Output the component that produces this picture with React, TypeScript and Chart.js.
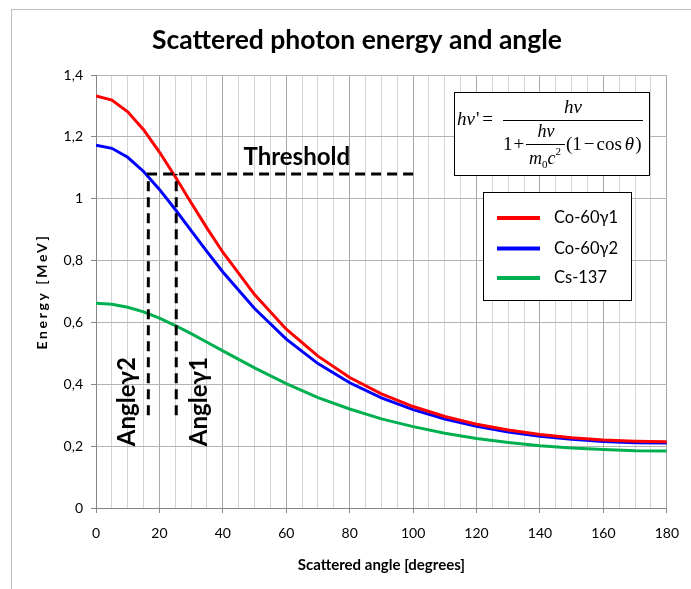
import React, { useEffect, useRef } from "react";
import { Chart, registerables } from "chart.js";

Chart.register(...registerables);

// Scattering angle in degrees
const angles = [0, 5, 10, 15, 20, 25, 30, 35, 40, 50, 60, 70, 80, 90, 100, 110, 120, 130, 140, 150, 160, 170, 180];

// Scattered photon energy in MeV
const co60Gamma1 = [1.332, 1.319, 1.281, 1.223, 1.151, 1.071, 0.987, 0.905, 0.827, 0.69, 0.578, 0.491, 0.422, 0.369, 0.328, 0.296, 0.271, 0.252, 0.238, 0.227, 0.22, 0.216, 0.214];
const co60Gamma2 = [1.173, 1.163, 1.134, 1.088, 1.03, 0.965, 0.897, 0.829, 0.763, 0.645, 0.546, 0.467, 0.405, 0.356, 0.318, 0.288, 0.264, 0.246, 0.232, 0.222, 0.215, 0.211, 0.21];
const cs137 = [0.662, 0.659, 0.649, 0.634, 0.614, 0.59, 0.564, 0.536, 0.508, 0.453, 0.402, 0.357, 0.32, 0.288, 0.263, 0.242, 0.225, 0.212, 0.201, 0.194, 0.189, 0.185, 0.184];

const seriesLabels = ["Co-60γ1", "Co-60γ2", "Cs-137"];
const seriesColors = ["#ff0000", "#0000ff", "#00b050"];

// Threshold energy and the angles where each Co-60 line crosses it
const thresholdEnergy = 1.08;
const thresholdEndAngle = 100;
const angleGamma2 = 16.5;
const angleGamma1 = 25.3;
const dropFloorEnergy = 0.3;

const chartTitle = "Scattered photon energy and angle";
const xTitle = "Scattered angle [degrees]";
const yTitle = "Energy [MeV]";

const SANS = "Lato, 'Open Sans', sans-serif";
const SERIF = "'Liberation Serif', 'DejaVu Serif', serif";

type Run = { t: string; f: string; gap?: number; dy?: number };

function drawRuns(ctx: CanvasRenderingContext2D, runs: Run[], x: number, y: number, draw = true): number {
  let cx = x;
  for (const r of runs) {
    cx += r.gap || 0;
    ctx.font = r.f;
    if (draw) ctx.fillText(r.t, cx, y + (r.dy || 0));
    cx += ctx.measureText(r.t).width;
  }
  return cx - x;
}

function drawRunsCentered(ctx: CanvasRenderingContext2D, runs: Run[], cx: number, y: number) {
  const w = drawRuns(ctx, runs, 0, 0, false);
  drawRuns(ctx, runs, cx - w / 2, y);
}

const overlayPlugin = {
  id: "overlay",
  afterDatasetsDraw(chart: any) {
    const ctx: CanvasRenderingContext2D = chart.ctx;
    const xs = chart.scales.x;
    const ys = chart.scales.y;
    ctx.save();
    ctx.fillStyle = "#000";
    ctx.textBaseline = "middle";
    ctx.textAlign = "left";
    ctx.font = `bold 24px ${SANS}`;
    ctx.fillText("Threshold", xs.getPixelForValue(46.5), ys.getPixelForValue(1.135));

    const drawRotated = (text: string, xv: number) => {
      ctx.save();
      ctx.translate(xs.getPixelForValue(xv), ys.getPixelForValue(0.2));
      ctx.rotate(-Math.PI / 2);
      ctx.textAlign = "left";
      ctx.textBaseline = "middle";
      ctx.font = `bold 24px ${SANS}`;
      ctx.fillText(text, 0, 0);
      ctx.restore();
    };
    drawRotated("Angleγ2", 10);
    drawRotated("Angleγ1", 32.5);
    ctx.restore();
  },
  afterDraw(chart: any) {
    const ctx: CanvasRenderingContext2D = chart.ctx;
    const area = chart.chartArea;
    ctx.save();

    // Title
    ctx.fillStyle = "#000";
    ctx.textAlign = "center";
    ctx.textBaseline = "middle";
    ctx.font = `bold 26.5px ${SANS}`;
    ctx.fillText(chartTitle, 357, 40);

    // Vertical axis title, letter-spaced
    ctx.save();
    ctx.translate(42, (area.top + area.bottom) / 2);
    ctx.rotate(-Math.PI / 2);
    (ctx as any).letterSpacing = "2.6px";
    ctx.font = `bold 14px ${SANS}`;
    ctx.fillText(yTitle, 0, 0);
    ctx.restore();

    // Compton formula box
    ctx.textAlign = "left";
    ctx.textBaseline = "alphabetic";
    ctx.fillStyle = "#fff";
    ctx.fillRect(454, 92, 195, 83);
    ctx.strokeStyle = "#000";
    ctx.lineWidth = 1;
    ctx.strokeRect(454.5, 92.5, 195, 83);
    ctx.fillStyle = "#000";
    const it = `italic 19px ${SERIF}`;
    const ro = `19px ${SERIF}`;
    const itS = `italic 18px ${SERIF}`;
    const sm = `11px ${SERIF}`;
    drawRuns(ctx, [
      { t: "hν", f: it },
      { t: "'", f: ro, gap: 1 },
      { t: "=", f: ro, gap: 3 },
    ], 457, 125);
    drawRunsCentered(ctx, [{ t: "hν", f: it }], 573, 113);
    ctx.beginPath();
    ctx.moveTo(503, 120.5);
    ctx.lineTo(643, 120.5);
    ctx.stroke();
    drawRuns(ctx, [
      { t: "1", f: ro },
      { t: "+", f: ro, gap: 1 },
    ], 503, 150);
    drawRunsCentered(ctx, [{ t: "hν", f: itS }], 546, 137);
    ctx.beginPath();
    ctx.moveTo(526, 144.5);
    ctx.lineTo(565, 144.5);
    ctx.stroke();
    drawRunsCentered(ctx, [
      { t: "m", f: itS },
      { t: "0", f: sm, dy: 4 },
      { t: "c", f: itS },
      { t: "2", f: sm, dy: -9 },
    ], 545, 164);
    drawRuns(ctx, [
      { t: "(", f: ro },
      { t: "1", f: ro },
      { t: "−", f: ro, gap: 2 },
      { t: "cos", f: ro, gap: 2 },
      { t: "θ", f: it, gap: 3 },
      { t: ")", f: ro, gap: 1 },
    ], 566, 150);

    // Legend box
    ctx.fillStyle = "#fff";
    ctx.fillRect(483, 192, 148, 108);
    ctx.strokeRect(483.5, 192.5, 148, 108);
    const rows = [218, 248.5, 278];
    const series = chart.data.datasets.filter((d: any) => d.inLegend);
    series.forEach((d: any, i: number) => {
      ctx.strokeStyle = d.borderColor;
      ctx.lineWidth = 4;
      ctx.beginPath();
      ctx.moveTo(497, rows[i]);
      ctx.lineTo(540, rows[i]);
      ctx.stroke();
      ctx.fillStyle = "#000";
      ctx.font = `16.5px ${SANS}`;
      ctx.textBaseline = "middle";
      ctx.fillText(d.label, 554, rows[i]);
    });
    ctx.restore();
  },
};

export default function App() {
  const canvasRef = useRef<HTMLCanvasElement | null>(null);

  useEffect(() => {
    if (!canvasRef.current) return;
    const toPoints = (ys: number[]) => angles.map((a, i) => ({ x: a, y: ys[i] }));
    const curves = [co60Gamma1, co60Gamma2, cs137].map((vals, i) => ({
      label: seriesLabels[i],
      data: toPoints(vals),
      borderColor: seriesColors[i],
      backgroundColor: seriesColors[i],
      borderWidth: 3,
      pointRadius: 0,
      tension: 0,
      inLegend: true,
    }));
    const dashed = {
      borderColor: "#000",
      borderWidth: 3,
      borderDash: [10, 6],
      pointRadius: 0,
      tension: 0,
      fill: false,
    };
    const guides = [
      {
        ...dashed,
        label: "threshold-gamma2",
        data: [
          { x: angleGamma2, y: dropFloorEnergy },
          { x: angleGamma2, y: thresholdEnergy },
          { x: thresholdEndAngle, y: thresholdEnergy },
        ],
      },
      {
        ...dashed,
        label: "threshold-gamma1",
        data: [
          { x: angleGamma1, y: dropFloorEnergy },
          { x: angleGamma1, y: thresholdEnergy },
        ],
      },
    ];

    const chart = new Chart(canvasRef.current, {
      type: "line",
      data: { datasets: [...guides, ...curves] as any },
      options: {
        animation: false,
        responsive: false,
        devicePixelRatio: 1,
        layout: { padding: { top: 75, right: 19, left: 0, bottom: 0 } },
        plugins: {
          legend: { display: false },
          title: { display: false },
          tooltip: { enabled: false },
        },
        scales: {
          x: {
            type: "linear",
            min: 0,
            max: 180,
            afterFit: (s: any) => {
              s.height = 81;
            },
            ticks: {
              stepSize: 5,
              autoSkip: false,
              maxRotation: 0,
              padding: 12,
              color: "#000",
              font: { family: SANS, size: 14 },
              callback: (v: any) => (Number(v) % 20 === 0 ? String(v) : ""),
            },
            grid: {
              color: (c: any) => (c.tick && c.tick.value % 20 === 0 ? "#a8a8a8" : "#d4d4d4"),
              tickColor: (c: any) => (c.tick && c.tick.value % 20 === 0 ? "#868686" : "rgba(0,0,0,0)"),
              tickLength: 5,
              lineWidth: 1,
            },
            border: { color: "#868686", width: 1 },
            title: {
              display: true,
              text: xTitle,
              color: "#000",
              font: { family: SANS, size: 15, weight: "bold" },
              padding: { top: 0, bottom: 15 },
            },
          },
          y: {
            type: "linear",
            min: 0,
            max: 1.4,
            afterFit: (s: any) => {
              s.width = 96;
            },
            ticks: {
              stepSize: 0.2,
              padding: 8,
              color: "#000",
              font: { family: SANS, size: 14 },
              callback: (v: any) => String(Math.round(Number(v) * 10) / 10).replace(".", ","),
            },
            grid: {
              color: "#b3b3b3",
              tickColor: "#868686",
              tickLength: 5,
              lineWidth: 1,
            },
            border: { color: "#868686", width: 1 },
            title: { display: false },
          },
        },
      } as any,
      plugins: [overlayPlugin],
    });
    return () => chart.destroy();
  }, []);

  return (
    <div
      style={{
        position: "fixed",
        left: 0,
        top: 0,
        width: 691,
        height: 589,
        overflow: "hidden",
        background: "#fff",
      }}
    >
      <div
        style={{
          position: "absolute",
          left: 11,
          top: 9,
          width: 720,
          height: 620,
          border: "1px solid #bdbdbd",
        }}
      />
      <canvas
        ref={canvasRef}
        width={691}
        height={589}
        style={{ position: "absolute", left: 0, top: 0, width: 691, height: 589 }}
      />
    </div>
  );
}
